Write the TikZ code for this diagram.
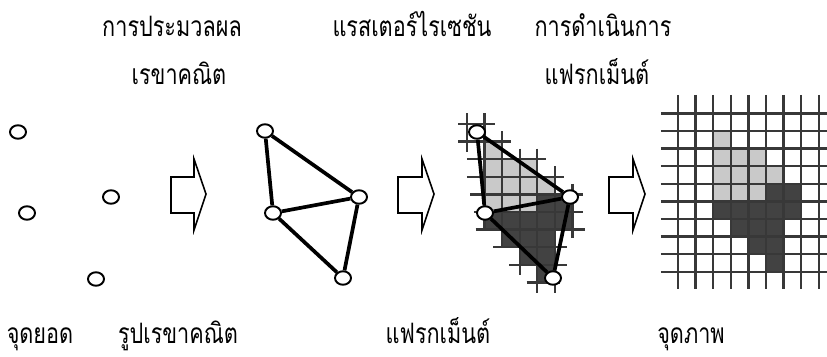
\documentclass[tikz,border=0pt]{standalone}
\usepackage{fontspec}
\newfontfamily\thaifont[Script=Thai, FakeStretch=0.77]{Loma}
\usetikzlibrary{shapes.geometric}
\tikzset{
  vtx/.style={ellipse, draw, line width=1.1pt, fill=white, minimum width=0.32cm,
    minimum height=0.27cm, inner sep=0pt},
  tri/.style={line width=2.1pt},
  lbl/.style={font=\thaifont\fontsize{16}{18}\selectfont, inner sep=0pt, anchor=base},
  gridln/.style={black!78, line width=1.3pt},
  blockarrow/.style={draw, line width=0.9pt, line join=miter, fill=white}
}
\begin{document}
\begin{tikzpicture}[x=0.02cm, y=-0.02cm]
  \useasboundingbox (0,0) rectangle (827,357);
  \def\lightcells{0/0,0/1,1/1,2/1,0/2,1/2,2/2,3/2,0/3,1/3,2/3}
  \def\darkcells{3/3,4/3,0/4,1/4,2/4,3/4,4/4,1/5,2/5,3/5,2/6,3/6,3/7}

  \node[lbl] (t1) at (172,37) {การประมวลผล};
  \node[lbl] (t2) at (179,85) {เรขาคณิต};
  \node[lbl] (t3) at (412,37) {แรสเตอร์ไรเซชัน};
  \node[lbl] (t4) at (603,37) {การดำเนินการ};
  \node[lbl] (t5) at (597,85) {แฟรกเม็นต์};
  \node[lbl] (b1) at (40,343) {จุดยอด};
  \node[lbl] (b2) at (178,343) {รูปเรขาคณิต};
  \node[lbl] (b3) at (438,343) {แฟรกเม็นต์};
  \node[lbl] (b4) at (691,343) {จุดภาพ};

  \foreach \ax/\hx/\tx in {171/194/206,398/422/434,609/633/645}{
    \draw[blockarrow] (\ax,177) -- (\hx,177) -- (\hx,159) -- (\tx,194)
      -- (\hx,230) -- (\hx,213) -- (\ax,213) -- cycle;
  }

  \node[vtx] (v1) at (18,132) {};
  \node[vtx] (v2) at (27,213) {};
  \node[vtx] (v3) at (111,197) {};
  \node[vtx] (v4) at (96,279) {};

  \node[vtx] (g1) at (265,131) {};
  \node[vtx] (g2) at (273,213) {};
  \node[vtx] (g3) at (359,197) {};
  \node[vtx] (g4) at (343,278) {};
  \draw[tri] (g1) -- (g2);
  \draw[tri] (g1) -- (g3);
  \draw[tri] (g2) -- (g3);
  \draw[tri] (g2) -- (g4);
  \draw[tri] (g3) -- (g4);

  \begin{scope}[shift={(484.5,141.6)}, x=0.352cm, y=-0.352cm]
    \foreach \c/\r in \lightcells {\fill[gray!42] (\c,\r) rectangle ++(1,1);}
    \foreach \c/\r in \darkcells {\fill[black!74] (\c,\r) rectangle ++(1,1);}
    \foreach \i/\xa/\xb in {-1/-1.5/0.6,0/-1.5/1.5,1/-1/3.5,2/-1/4.5,3/-0.8/5.6,
      4/-0.6/5.6,5/-0.5/5.7,6/0.5/4.7,7/1.4/4.7,8/2.4/4.3}{
      \draw[gridln] (\xa,\i) -- (\xb,\i);
    }
    \foreach \j/\ya/\yb in {-1/-1.6/0.6,0/-1.6/5,1/-0.6/6,2/0.4/7.6,3/0.4/8.6,
      4/1.4/8.6,5/2.4/5.5}{
      \draw[gridln] (\j,\ya) -- (\j,\yb);
    }
  \end{scope}
  \node[vtx] (f1) at (477,132) {};
  \node[vtx] (f2) at (485,213) {};
  \node[vtx] (f3) at (570,197) {};
  \node[vtx] (f4) at (553,278) {};
  \draw[tri] (f1) -- (f2);
  \draw[tri] (f1) -- (f3);
  \draw[tri] (f2) -- (f3);
  \draw[tri] (f2) -- (f4);
  \draw[tri] (f3) -- (f4);

  \begin{scope}[shift={(713.2,131)}, x=0.352cm, y=-0.352cm]
    \foreach \c/\r in \lightcells {\fill[gray!42] (\c,\r) rectangle ++(1,1);}
    \foreach \c/\r in \darkcells {\fill[black!74] (\c,\r) rectangle ++(1,1);}
    \foreach \i in {-1,...,8}{
      \draw[gridln] (-2.98,\i) -- (6.5,\i);
    }
    \foreach \j in {-2,...,6}{
      \draw[gridln] (\j,-2.05) -- (\j,8.98);
    }
  \end{scope}
\end{tikzpicture}
\end{document}
